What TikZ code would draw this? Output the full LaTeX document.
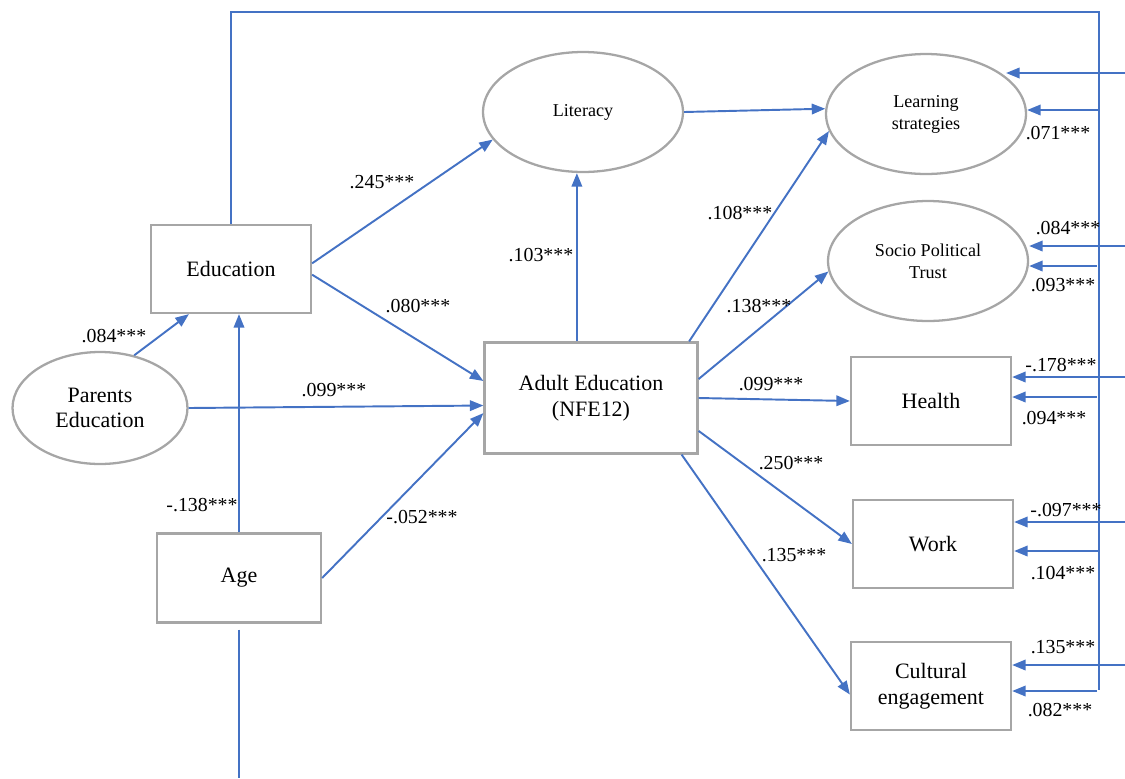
\documentclass[tikz,border=0pt]{standalone}
\usepackage{fontspec}
\setmainfont{Liberation Serif}
\usetikzlibrary{arrows.meta,shapes.geometric}
\definecolor{pathblue}{HTML}{4472C4}
\definecolor{framegray}{HTML}{A6A6A6}
\begin{document}
\begin{tikzpicture}[x=0.02cm, y=-0.02cm,
  box/.style={draw=framegray, line width=1.3pt, minimum width=3.2cm, minimum height=1.76cm,
    align=center, font=\fontsize{12.5}{14.5}\selectfont},
  oval/.style={ellipse, draw=framegray, line width=1.3pt, minimum width=4cm, minimum height=2.4cm,
    align=center, font=\fontsize{10.3}{12.5}\selectfont},
  effect/.style={draw=pathblue, line width=1.1pt, -{Triangle[length=0.27cm, width=0.21cm]}},
  link/.style={draw=pathblue, line width=0.6pt},
  coef/.style={font=\fontsize{11.3}{13}\selectfont, inner sep=0pt}]
  \useasboundingbox (0,0) rectangle (1125,778);

  % variables
  \node[box] (edu) at (231,269) {Education};
  \node[oval, minimum width=3.5cm, minimum height=2.24cm, font=\fontsize{12.5}{14.5}\selectfont]
    (par) at (100,408) {Parents\\Education};
  \node[box, minimum width=3.28cm, minimum height=1.78cm] (age) at (239,578) {Age};
  \node[box, minimum width=4.26cm, minimum height=2.22cm] (adu) at (591,398) {Adult Education\\(NFE12)};
  \node[oval] (lit) at (583,112) {Literacy};
  \node[oval] (lrn) at (926,114) {Learning\\strategies};
  \node[oval] (soc) at (928,261) {Socio Political\\Trust};
  \node[box] (hea) at (931,401) {Health};
  \node[box] (wrk) at (933,544) {Work};
  \node[box] (cul) at (931,686) {Cultural\\engagement};

  % paths into adult education and literacy
  \draw[effect] (par.57) -- (edu.227);
  \draw[effect] (age.north) -- (age.north |- edu.south);
  \draw[effect] (par.east) -- (adu.184);
  \draw[effect] (age.east) -- (adu.188);
  \draw[effect] (edu.4) -- (lit.197);
  \draw[effect] (edu.-4) -- (adu.171);
  \draw[effect] (adu.104) -- (adu.104 |- lit.south);
  \draw[effect] (lit.east) -- (lrn.177);

  % paths out of adult education
  \draw[effect] (adu.30) -- (lrn.190);
  \draw[effect] (adu.10) -- (soc.186);
  \draw[effect] (adu.east) -- (hea.west);
  \draw[effect] (adu.-17) -- (wrk.west);
  \draw[effect] (adu.-32) -- (cul.186);

  % loop from education and free line from age
  \coordinate (topR) at (1099,12);
  \coordinate (botR) at (1099,690);
  \coordinate (ageEnd) at (239,778);
  \draw[link] (edu.north) -- (edu.north |- topR) -- (topR) -- (botR);
  \draw[link, shorten <=0.12cm] (age.south) -- (ageEnd);

  % arrows on the right
  \coordinate (lrnA) at (1125,73);  \coordinate (lrnB) at (1099,110);
  \coordinate (socA) at (1125,246); \coordinate (socB) at (1097,266);
  \coordinate (heaA) at (1125,377); \coordinate (heaB) at (1097,397);
  \coordinate (wrkA) at (1125,522); \coordinate (wrkB) at (1099,551);
  \coordinate (culA) at (1125,665); \coordinate (culB) at (1097,691);
  \draw[effect] (lrnA) -- (lrnA -| lrn.25);
  \draw[effect] (lrnB) -- (lrnB -| lrn.east);
  \draw[effect] (socA) -- (socA -| soc.east);
  \draw[effect] (socB) -- (socB -| soc.east);
  \draw[effect] (heaA) -- (heaA -| hea.east);
  \draw[effect] (heaB) -- (heaB -| hea.east);
  \draw[effect] (wrkA) -- (wrkA -| wrk.east);
  \draw[effect] (wrkB) -- (wrkB -| wrk.east);
  \draw[effect] (culA) -- (culA -| cul.east);
  \draw[effect] (culB) -- (culB -| cul.east);

  % coefficients
  \node[coef] (kParEdu) at (114,336) {.084***};
  \node[coef] (kAgeEdu) at (202,505) {-.138***};
  \node[coef] (kParAdu) at (334,390) {.099***};
  \node[coef] (kAgeAdu) at (422,517) {-.052***};
  \node[coef] (kEduLit) at (382,182) {.245***};
  \node[coef] (kEduAdu) at (418,306) {.080***};
  \node[coef] (kAduLit) at (541,255) {.103***};
  \node[coef] (kAduLrn) at (740,213) {.108***};
  \node[coef] (kAduSoc) at (759,306) {.138***};
  \node[coef] (kAduHea) at (771,384) {.099***};
  \node[coef] (kAduWrk) at (791,463) {.250***};
  \node[coef] (kAduCul) at (794,555) {.135***};
  \node[coef] (kLrn) at (1058,133) {.071***};
  \node[coef] (kSocA) at (1068,228) {.084***};
  \node[coef] (kSocB) at (1063,285) {.093***};
  \node[coef] (kHeaA) at (1061,365) {-.178***};
  \node[coef] (kHeaB) at (1054,418) {.094***};
  \node[coef] (kWrkA) at (1066,510) {-.097***};
  \node[coef] (kWrkB) at (1063,573) {.104***};
  \node[coef] (kCulA) at (1063,647) {.135***};
  \node[coef] (kCulB) at (1060,710) {.082***};
\end{tikzpicture}
\end{document}
